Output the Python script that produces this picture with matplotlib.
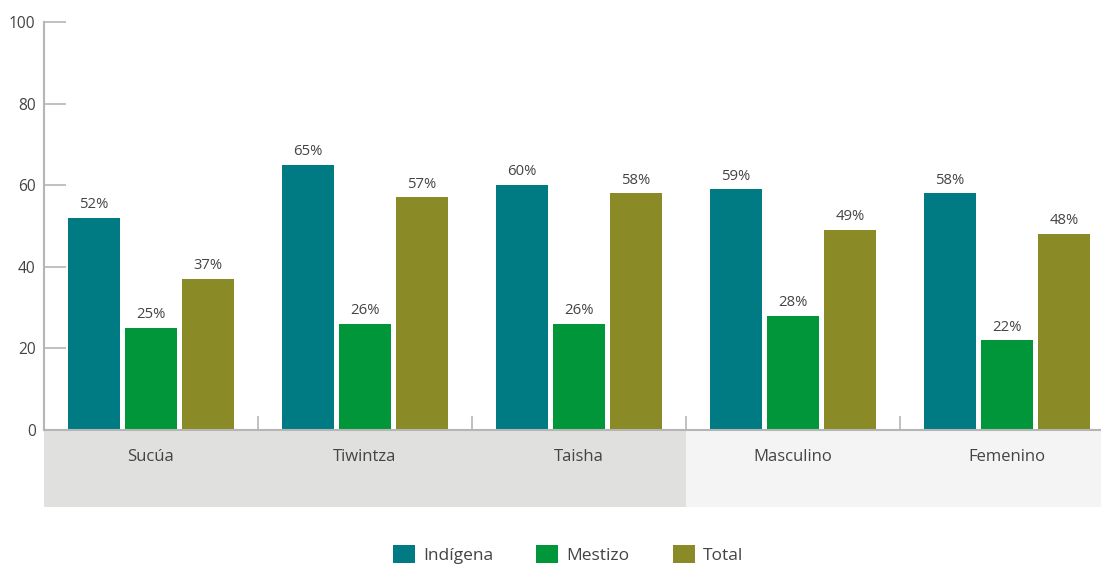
import numpy as np
import matplotlib.pyplot as plt
from matplotlib.patches import Rectangle

plt.rcParams['font.family'] = ['Open Sans', 'DejaVu Sans']

categorias = ['Sucúa', 'Tiwintza', 'Taisha', 'Masculino', 'Femenino']
indigena = [52, 65, 60, 59, 58]
mestizo = [25, 26, 26, 28, 22]
total = [37, 57, 58, 49, 48]
series = ['Indígena', 'Mestizo', 'Total']
colores = ['#007b83', '#009639', '#8a8a27']

W, H = 1101, 567
fig = plt.figure(figsize=(W / 100, H / 100), dpi=100)
# axes: y=0 at px 430, y=100 at px 22; x=0 at px 44, one group = 214 px
ax = fig.add_axes([44 / W, (H - 430) / H, (W - 44) / W, 408 / H])
ax.set_ylim(0, 100)
ax.set_xlim(0, (W - 44) / 214)

x = np.arange(len(categorias)) + 0.5
bw = 52 / 214
step = 57 / 214
for i, (vals, col) in enumerate(zip([indigena, mestizo, total], colores)):
    xs = x + (i - 1) * step
    ax.bar(xs, vals, width=bw, color=col, label=series[i], zorder=2)
    for xi, v in zip(xs, vals):
        ax.text(xi, v + 1.4, f'{v}%', ha='center', va='bottom',
                fontsize=10.7, color='#444444')

# shaded bands under the category labels
unit = 100 / 408
band_h = 77 * unit
ax.add_patch(Rectangle((0, -band_h), 3, band_h, color='#e0e0df',
                       clip_on=False, zorder=0, lw=0))
ax.add_patch(Rectangle((3, -band_h), 3, band_h, color='#f4f4f4',
                       clip_on=False, zorder=0, lw=0))
for xi, cat in zip(x, categorias):
    ax.text(xi, -27 * unit, cat, ha='center', va='center',
            fontsize=12, color='#444444')

for s in ['top', 'right']:
    ax.spines[s].set_visible(False)
for s in ['left', 'bottom']:
    ax.spines[s].set_color('#b5b5b5')
    ax.spines[s].set_linewidth(1.5)

ax.set_yticks([0, 20, 40, 60, 80, 100])
ax.tick_params(axis='y', direction='in', length=16, width=1.2,
               color='#b5b5b5', labelsize=11.2, labelcolor='#444444', pad=6)
ax.set_xticks([])
ax.set_xticks([1, 2, 3, 4], minor=True)
ax.tick_params(axis='x', which='minor', direction='in', length=10,
               width=1.2, color='#b5b5b5')
ax.set_facecolor('none')

leg = fig.legend(loc='lower center', bbox_to_anchor=(0.516, -0.022), ncol=3,
                 frameon=False, fontsize=12.5, handlelength=1.27,
                 handleheight=1.27, handletextpad=0.46, columnspacing=2.5)
for t in leg.get_texts():
    t.set_color('#444444')

fig.savefig('out.png', dpi=100)
